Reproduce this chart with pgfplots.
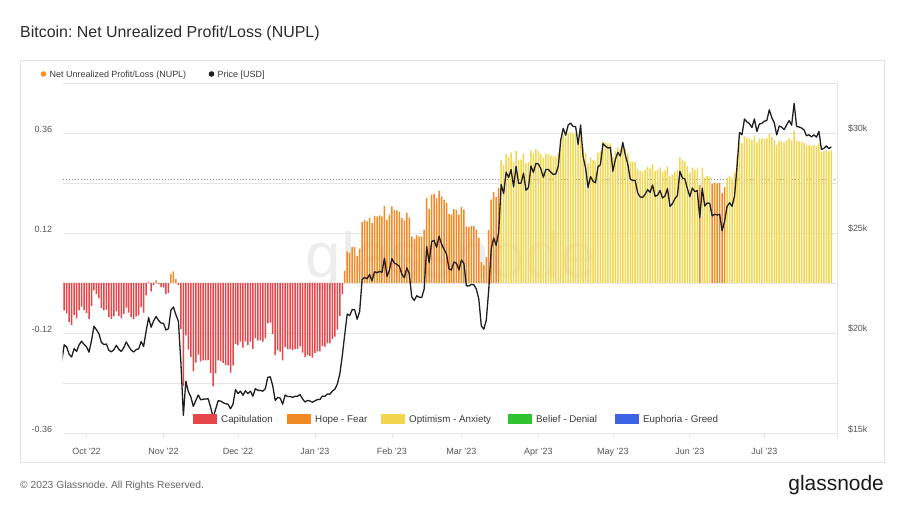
\documentclass[border=0pt]{standalone}
\usepackage{pgfplots}
\usepackage{pgfplotstable}
\pgfplotsset{compat=1.18}
\usepackage{fontspec}
\setmainfont{Liberation Sans}
\frenchspacing
\definecolor{nred}{HTML}{E8454A}
\definecolor{norange}{HTML}{F28A24}
\definecolor{nyellow}{HTML}{F2D64E}
\definecolor{ngreen}{HTML}{2FC42F}
\definecolor{nblue}{HTML}{3E62E6}
\definecolor{gridc}{HTML}{E6E6E6}
\definecolor{tickc}{HTML}{555555}
\definecolor{boxc}{HTML}{E2E2E2}
\definecolor{pline}{HTML}{1F1F1F}
\definecolor{btc}{HTML}{F7931A}
\definecolor{titlec}{HTML}{2B2B2B}
\definecolor{legc}{HTML}{3A3A3A}

% d = days since 1 Oct 2022, n = NUPL, p = price [kUSD]
\pgfplotstableread{
d n p
-10 -0.116 18.55
-9 -0.066 19.41
-8 -0.073 19.30
-7 -0.094 18.93
-6 -0.101 18.80
-5 -0.077 19.22
-4 -0.085 19.08
-3 -0.066 19.41
-2 -0.057 19.59
-1 -0.065 19.43
0 -0.072 19.31
1 -0.087 19.04
2 -0.055 19.62
3 -0.018 20.34
4 -0.027 20.16
5 -0.037 19.96
6 -0.060 19.53
7 -0.066 19.42
8 -0.064 19.45
9 -0.082 19.13
10 -0.086 19.06
11 -0.080 19.16
12 -0.068 19.38
13 -0.079 19.19
14 -0.085 19.07
15 -0.074 19.27
16 -0.059 19.55
17 -0.071 19.33
18 -0.082 19.14
19 -0.087 19.05
20 -0.080 19.17
21 -0.078 19.21
22 -0.058 19.57
23 -0.071 19.33
24 -0.030 20.09
25 0.003 20.77
26 -0.020 20.29
27 -0.005 20.60
28 0.006 20.82
29 -0.003 20.63
30 -0.010 20.50
31 -0.011 20.48
32 -0.027 20.15
33 -0.024 20.21
34 0.021 21.15
35 0.028 21.30
36 0.010 20.91
37 -0.005 20.59
38 -0.111 18.54
39 -0.247 15.88
40 -0.126 17.59
41 -0.160 17.07
42 -0.178 16.81
43 -0.212 16.33
44 -0.191 16.62
45 -0.172 16.90
46 -0.188 16.66
47 -0.186 16.69
48 -0.186 16.70
49 -0.185 16.71
50 -0.216 16.28
51 -0.248 15.78
52 -0.217 16.19
53 -0.186 16.61
54 -0.187 16.60
55 -0.192 16.52
56 -0.197 16.46
57 -0.198 16.44
58 -0.215 16.21
59 -0.198 16.44
60 -0.147 17.17
61 -0.149 16.97
62 -0.141 17.09
63 -0.155 16.89
64 -0.140 17.11
65 -0.149 16.97
66 -0.141 17.09
67 -0.158 16.84
68 -0.132 17.22
69 -0.138 17.13
70 -0.138 17.13
71 -0.141 17.09
72 -0.133 17.21
73 -0.097 17.78
74 -0.095 17.81
75 -0.123 17.36
76 -0.173 16.63
77 -0.162 16.78
78 -0.165 16.74
79 -0.186 16.44
80 -0.154 16.90
81 -0.159 16.82
82 -0.159 16.83
83 -0.162 16.78
84 -0.158 16.84
85 -0.158 16.84
86 -0.152 16.92
87 -0.167 16.71
88 -0.178 16.55
89 -0.173 16.63
90 -0.175 16.60
91 -0.179 16.54
92 -0.168 16.61
93 -0.164 16.67
94 -0.164 16.67
95 -0.151 16.85
96 -0.153 16.83
97 -0.145 16.95
98 -0.145 16.94
99 -0.135 17.09
100 -0.129 17.19
101 -0.112 17.44
102 -0.079 17.94
103 -0.027 18.85
104 0.029 19.93
105 0.076 20.95
106 0.073 20.87
107 0.086 21.17
108 0.086 21.16
109 0.065 20.69
110 0.082 21.07
111 0.146 22.67
112 0.151 22.78
113 0.148 22.71
114 0.156 22.92
115 0.144 22.61
116 0.161 23.06
117 0.159 23.01
118 0.162 23.08
119 0.160 23.03
120 0.185 23.74
121 0.152 22.83
122 0.164 23.14
123 0.184 23.72
124 0.176 23.49
125 0.174 23.43
126 0.171 23.33
127 0.156 22.94
128 0.150 22.76
129 0.168 23.26
130 0.157 22.96
131 0.112 21.80
132 0.105 21.63
133 0.115 21.86
134 0.112 21.79
135 0.111 21.77
136 0.128 22.20
137 0.204 24.32
138 0.177 23.52
139 0.212 24.57
140 0.214 24.63
141 0.203 24.28
142 0.221 24.84
143 0.208 24.44
144 0.200 24.19
145 0.192 23.95
146 0.166 23.20
147 0.164 23.15
148 0.178 23.55
149 0.176 23.49
150 0.164 23.15
151 0.182 23.65
152 0.176 23.47
153 0.135 22.36
154 0.134 22.35
155 0.137 22.43
156 0.137 22.41
157 0.128 22.20
158 0.108 21.70
159 0.050 20.36
160 0.042 20.19
161 0.062 20.63
162 0.127 22.16
163 0.200 24.20
164 0.218 24.75
165 0.206 24.38
166 0.228 25.05
167 0.294 27.42
168 0.283 26.97
169 0.310 28.04
170 0.303 27.77
171 0.313 28.17
172 0.291 27.31
173 0.317 28.33
174 0.296 27.49
175 0.296 27.49
176 0.309 27.99
177 0.287 27.14
178 0.290 27.27
179 0.317 28.35
180 0.310 28.03
181 0.321 28.48
182 0.316 28.45
183 0.310 28.20
184 0.300 27.79
185 0.310 28.17
186 0.310 28.18
187 0.306 28.04
188 0.304 27.93
189 0.304 27.95
190 0.313 28.33
191 0.344 29.65
192 0.357 30.23
193 0.349 29.89
194 0.360 30.40
195 0.362 30.49
196 0.359 30.32
197 0.359 30.32
198 0.339 29.43
199 0.360 30.40
200 0.325 28.82
201 0.312 28.25
202 0.287 27.28
203 0.301 27.82
204 0.295 27.59
205 0.293 27.51
206 0.313 28.31
207 0.316 28.42
208 0.340 29.47
209 0.337 29.34
210 0.335 29.25
211 0.335 29.27
212 0.302 28.09
213 0.317 28.68
214 0.325 29.03
215 0.321 28.85
216 0.336 29.53
217 0.322 28.90
218 0.311 28.45
219 0.292 27.69
220 0.291 27.63
221 0.290 27.62
222 0.274 27.00
223 0.269 26.80
224 0.268 26.78
225 0.272 26.93
226 0.279 27.17
227 0.275 27.03
228 0.285 27.40
229 0.269 26.83
230 0.271 26.89
231 0.277 27.12
232 0.267 26.75
233 0.270 26.85
234 0.280 27.23
235 0.256 26.33
236 0.260 26.47
237 0.266 26.72
238 0.271 26.87
239 0.302 28.08
240 0.294 27.75
241 0.292 27.70
242 0.280 27.22
243 0.265 26.82
244 0.277 27.25
245 0.272 27.07
246 0.274 27.12
247 0.235 25.76
248 0.277 27.24
249 0.252 26.35
250 0.257 26.50
251 0.256 26.48
252 0.238 25.85
253 0.241 25.94
254 0.239 25.90
255 0.240 25.93
256 0.216 25.12
257 0.230 25.58
258 0.252 26.33
259 0.257 26.51
260 0.252 26.34
261 0.266 26.84
262 0.304 28.31
263 0.337 30.03
264 0.335 29.91
265 0.352 30.70
266 0.349 30.55
267 0.347 30.47
268 0.343 30.27
269 0.352 30.70
270 0.338 30.08
271 0.346 30.45
272 0.347 30.48
273 0.346 30.59
274 0.347 30.62
275 0.358 31.16
276 0.350 30.77
277 0.344 30.51
278 0.331 29.90
279 0.341 30.35
280 0.340 30.29
281 0.337 30.17
282 0.342 30.41
283 0.347 30.62
284 0.342 30.39
285 0.365 31.48
286 0.341 30.33
287 0.340 30.30
288 0.339 30.25
289 0.337 30.15
290 0.330 29.86
291 0.331 29.91
292 0.329 29.80
293 0.331 29.91
294 0.329 29.79
295 0.335 30.08
296 0.315 29.18
297 0.316 29.23
298 0.319 29.35
299 0.316 29.22
300 0.318 29.31
}\data

\begin{document}
\begin{tikzpicture}
\begin{scope}[x=1bp,y=1bp]
\fill[white] (0,0) rectangle (904,508);
\path[use as bounding box] (0,0) rectangle (904,508);
% frame
\draw[boxc, line width=0.8bp] (20,46) rectangle (884,448);
% title
\node[anchor=base west, inner sep=0, text=titlec, font=\fontsize{16}{18}\selectfont] at (20,470.5) {Bitcoin: Net Unrealized Profit/Loss (NUPL)};
% watermark
\node[anchor=base, inner sep=0, text=black!7, font=\fontsize{64}{70}\selectfont] at (451,230) {glassnode};
% top legend
\fill[btc] (43.5,434) circle (2.8);
\node[anchor=base west, inner sep=0, text=legc, font=\fontsize{9}{10}\selectfont] at (49.5,430.8) {Net Unrealized Profit/Loss (NUPL)};
\fill[pline] (211.5,434) circle (2.8);
\node[anchor=base west, inner sep=0, text=legc, font=\fontsize{9}{10}\selectfont] at (217.5,430.8) {Price [USD]};
\end{scope}

\begin{axis}[
  at={(62.7bp,75bp)}, anchor=south west,
  scale only axis, width=774.6bp, height=350bp,
  xmin=-9.6, xmax=302.4,
  ymin=-0.36, ymax=0.48,
  axis line style={draw=none},
  ytick={-0.36,-0.24,-0.12,0,0.12,0.24,0.36,0.48},
  yticklabels={-0.36,,-0.12,,0.12,,0.36,},
  ymajorgrids, major grid style={color=gridc, line width=0.7bp},
  ytick style={draw=none},
  xtick={0,31,61,92,123,151,182,212,243,273},
  xticklabels={Oct '22,Nov '22,Dec '22,Jan '23,Feb '23,Mar '23,Apr '23,May '23,Jun '23,Jul '23},
  xtick pos=bottom,
  tick align=outside, major tick length=5bp,
  xtick style={color=gridc, line width=0.7bp},
  tick label style={text=tickc, font=\fontsize{9}{10}\selectfont},
  yticklabel style={anchor=east, inner sep=0pt, xshift=-5.5bp, yshift=4bp},
  xticklabel style={anchor=north, inner sep=0pt, yshift=-10bp},
  extra y ticks={0.25}, extra y tick labels={},
  extra y tick style={ymajorgrids=true, major grid style={color=black!45, line width=0.6bp, dash pattern=on 1bp off 2bp}},
]
\addplot[ybar, bar shift=0pt, bar width=1.5bp, fill=nred, draw=none, restrict y to domain=-1:-0.0001] table[x=d,y=n]{\data};
\addplot[ybar, bar shift=0pt, bar width=1.5bp, fill=norange, draw=none, restrict y to domain=0:0.2499] table[x=d,y=n]{\data};
\addplot[ybar, bar shift=0pt, bar width=1.5bp, fill=nyellow, draw=none, restrict y to domain=0.25:1] table[x=d,y=n]{\data};
\end{axis}

\begin{axis}[
  at={(62.7bp,75bp)}, anchor=south west,
  scale only axis, width=774.6bp, height=350bp,
  xmin=-9.6, xmax=302.4,
  ymin=15, ymax=32.5,
  axis line style={draw=none},
  xtick=\empty,
  ytick={15,20,25,30},
  yticklabels={\$15k,\$20k,\$25k,\$30k},
  yticklabel pos=right,
  ytick style={draw=none},
  tick label style={text=tickc, font=\fontsize{9}{10}\selectfont},
  yticklabel style={anchor=west, inner sep=0pt, xshift=10.5bp, yshift=4bp},
]
\addplot[color=pline, line width=1.3bp, no marks, line join=round] table[x=d,y=p]{\data};
\end{axis}

\begin{scope}[x=1bp,y=1bp]
% right axis line
\draw[boxc, line width=0.8bp] (837.3,70) -- (837.3,425);
% bottom legend
\fill[nred] (193,84) rectangle (217,94);
\node[anchor=base west, inner sep=0, text=legc, font=\fontsize{9.8}{11}\selectfont] at (221,85.5) {Capitulation};
\fill[norange] (287,84) rectangle (311,94);
\node[anchor=base west, inner sep=0, text=legc, font=\fontsize{9.8}{11}\selectfont] at (315,85.5) {Hope - Fear};
\fill[nyellow] (381,84) rectangle (405,94);
\node[anchor=base west, inner sep=0, text=legc, font=\fontsize{9.8}{11}\selectfont] at (409,85.5) {Optimism - Anxiety};
\fill[ngreen] (508,84) rectangle (532,94);
\node[anchor=base west, inner sep=0, text=legc, font=\fontsize{9.8}{11}\selectfont] at (536,85.5) {Belief - Denial};
\fill[nblue] (615,84) rectangle (639,94);
\node[anchor=base west, inner sep=0, text=legc, font=\fontsize{9.8}{11}\selectfont] at (643,85.5) {Euphoria - Greed};
% footer
\node[anchor=base west, inner sep=0, text=black!60, font=\fontsize{10.3}{12}\selectfont] at (20,19.5) {© 2023 Glassnode. All Rights Reserved.};
\node[anchor=base east, inner sep=0, text=black!90, font=\fontsize{21}{24}\selectfont] at (884,17) {glassnode};
\end{scope}
\end{tikzpicture}
\end{document}
